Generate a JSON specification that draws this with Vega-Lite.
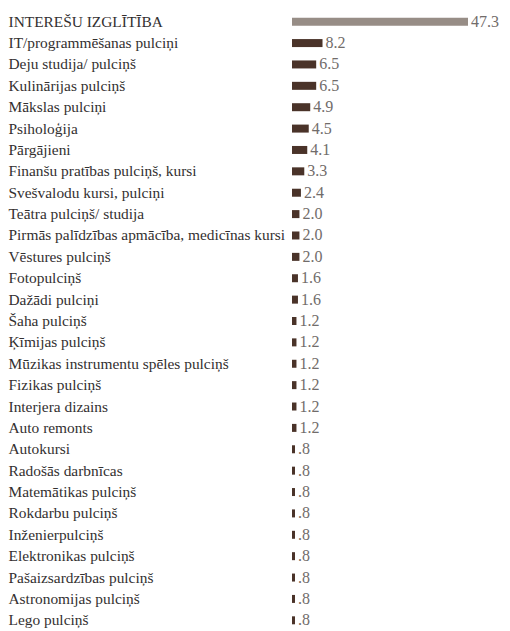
{
  "$schema": "https://vega.github.io/schema/vega-lite/v6.json",
  "width": 176,
  "height": 620,
  "autosize": {"type": "none"},
  "padding": {"left": 292, "top": 11, "right": 42, "bottom": 0},
  "background": "white",
  "config": {"view": {"stroke": null}},
  "data": {"values": [
    {"name": "INTEREŠU IZGLĪTĪBA", "value": 47.3, "txt": "47.3", "grp": "total"},
    {"name": "IT/programmēšanas pulciņi", "value": 8.2, "txt": "8.2", "grp": "item"},
    {"name": "Deju studija/ pulciņš", "value": 6.5, "txt": "6.5", "grp": "item"},
    {"name": "Kulinārijas pulciņš", "value": 6.5, "txt": "6.5", "grp": "item"},
    {"name": "Mākslas pulciņi", "value": 4.9, "txt": "4.9", "grp": "item"},
    {"name": "Psiholoģija", "value": 4.5, "txt": "4.5", "grp": "item"},
    {"name": "Pārgājieni", "value": 4.1, "txt": "4.1", "grp": "item"},
    {"name": "Finanšu pratības pulciņš, kursi", "value": 3.3, "txt": "3.3", "grp": "item"},
    {"name": "Svešvalodu kursi, pulciņi", "value": 2.4, "txt": "2.4", "grp": "item"},
    {"name": "Teātra pulciņš/ studija", "value": 2.0, "txt": "2.0", "grp": "item"},
    {"name": "Pirmās palīdzības apmācība, medicīnas kursi", "value": 2.0, "txt": "2.0", "grp": "item"},
    {"name": "Vēstures pulciņš", "value": 2.0, "txt": "2.0", "grp": "item"},
    {"name": "Fotopulciņš", "value": 1.6, "txt": "1.6", "grp": "item"},
    {"name": "Dažādi pulciņi", "value": 1.6, "txt": "1.6", "grp": "item"},
    {"name": "Šaha pulciņš", "value": 1.2, "txt": "1.2", "grp": "item"},
    {"name": "Ķīmijas pulciņš", "value": 1.2, "txt": "1.2", "grp": "item"},
    {"name": "Mūzikas instrumentu spēles pulciņš", "value": 1.2, "txt": "1.2", "grp": "item"},
    {"name": "Fizikas pulciņš", "value": 1.2, "txt": "1.2", "grp": "item"},
    {"name": "Interjera dizains", "value": 1.2, "txt": "1.2", "grp": "item"},
    {"name": "Auto remonts", "value": 1.2, "txt": "1.2", "grp": "item"},
    {"name": "Autokursi", "value": 0.8, "txt": ".8", "grp": "item"},
    {"name": "Radošās darbnīcas", "value": 0.8, "txt": ".8", "grp": "item"},
    {"name": "Matemātikas pulciņš", "value": 0.8, "txt": ".8", "grp": "item"},
    {"name": "Rokdarbu pulciņš", "value": 0.8, "txt": ".8", "grp": "item"},
    {"name": "Inženierpulciņš", "value": 0.8, "txt": ".8", "grp": "item"},
    {"name": "Elektronikas pulciņš", "value": 0.8, "txt": ".8", "grp": "item"},
    {"name": "Pašaizsardzības pulciņš", "value": 0.8, "txt": ".8", "grp": "item"},
    {"name": "Astronomijas pulciņš", "value": 0.8, "txt": ".8", "grp": "item"},
    {"name": "Lego pulciņš", "value": 0.8, "txt": ".8", "grp": "item"}
  ]},
  "encoding": {
    "y": {
      "field": "name", "type": "nominal", "sort": null,
      "scale": {"paddingInner": 0, "paddingOuter": 0},
      "axis": {"title": null, "domain": false, "ticks": false, "labelAlign": "left", "labelPadding": 284, "labelLimit": 0, "labelFont": "Liberation Serif", "labelFontSize": 15.4, "labelColor": "#333030"}
    },
    "x": {"field": "value", "type": "quantitative", "scale": {"domain": [0, 47.3], "nice": false}, "axis": null}
  },
  "layer": [
    {
      "mark": {"type": "bar", "size": 8},
      "encoding": {
        "color": {"field": "grp", "type": "nominal", "scale": {"domain": ["total", "item"], "range": ["#978d86", "#4a3329"]}, "legend": null}
      }
    },
    {
      "mark": {"type": "text", "align": "left", "dx": 3, "font": "Liberation Serif", "fontSize": 16, "color": "#716c6a"},
      "encoding": {"text": {"field": "txt"}}
    }
  ]
}
